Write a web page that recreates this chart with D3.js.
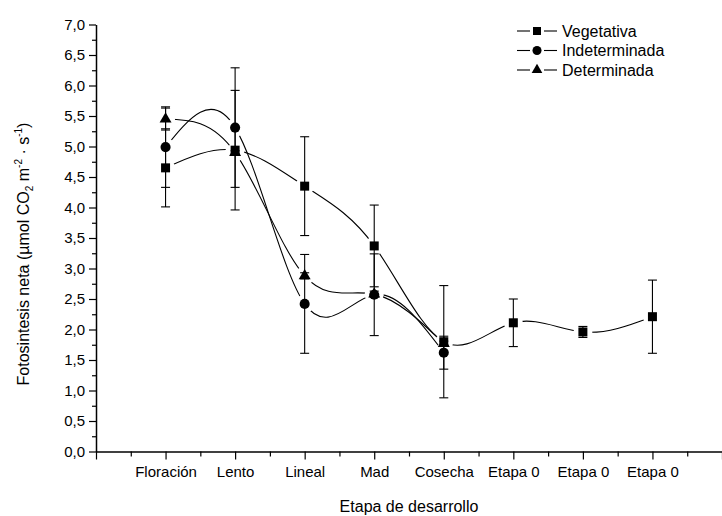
<!DOCTYPE html>
<html>
<head>
<meta charset="utf-8">
<script src="https://cdn.jsdelivr.net/npm/d3@7"></script>
<style>
  body { margin: 0; background: #fff; }
  text { font-family: "Liberation Sans", Arial, sans-serif; fill: #000; }
</style>
</head>
<body>
<svg id="chart" width="722" height="516"></svg>
<script>
// Development stages on the x axis (positions 1..8)
const stages = ["Floración", "Lento", "Lineal", "Mad", "Cosecha", "Etapa 0", "Etapa 0", "Etapa 0"];

// Net photosynthesis (µmol CO2 m-2 s-1) and error per stage
const vegetativa      = [4.65, 4.94, 4.35, 3.37, 1.80, 2.11, 1.96, 2.21];
const vegetativaErr   = [0.64, 0.98, 0.81, 0.67, 0.92, 0.39, 0.09, 0.60];
const indeterminada    = [4.99, 5.31, 2.42, 2.57, 1.62];
const indeterminadaErr = [0.66, 0.98, 0.81, 0.67, 0.27];
const determinada      = [5.45, 4.90, 2.88, 2.58, 1.77];
const determinadaErr   = [0.18, 0.03, 0.05, 0.05, 0.04];

const yMajorTicks = d3.range(0, 7.001, 0.5);
const yMinorTicks = d3.range(0.25, 7, 0.5);
const xMajorTicks = d3.range(0, 10, 1);
const xMinorTicks = d3.range(0.5, 9, 1);

const series = [
  { name: "Vegetativa",    values: vegetativa,    err: vegetativaErr,    symbol: d3.symbolSquare,   size: 81 },
  { name: "Indeterminada", values: indeterminada, err: indeterminadaErr, symbol: d3.symbolCircle,   size: 80 },
  { name: "Determinada",   values: determinada,   err: determinadaErr,   symbol: d3.symbolTriangle, size: 62 }
];

const svg = d3.select("#chart");
const x = d3.scaleLinear().domain([0, 9]).range([96, 722]);
const y = d3.scaleLinear().domain([0, 7]).range([451.5, 24.5]);

const fmt = d => d3.format(".1f")(d).replace(".", ",");

// ---- Axes ----
const yAxis = svg.append("g").attr("transform", `translate(${x(0)},0)`)
  .call(d3.axisLeft(y).tickValues(yMajorTicks).tickSize(7).tickSizeOuter(0).tickFormat(fmt).tickPadding(4));
yAxis.append("g").call(d3.axisLeft(y).tickValues(yMinorTicks).tickSize(4).tickFormat(""))
  .select(".domain").remove();
yAxis.selectAll(".tick text").attr("font-size", 15).attr("fill", "#000");

const xAxis = svg.append("g").attr("transform", `translate(0,${y(0)})`)
  .call(d3.axisBottom(x).tickValues(xMajorTicks).tickSize(8).tickSizeOuter(0)
    .tickFormat(d => stages[d - 1] || "").tickPadding(7));
xAxis.append("g").call(d3.axisBottom(x).tickValues(xMinorTicks).tickSize(5).tickFormat(""))
  .select(".domain").remove();
xAxis.selectAll(".tick text").attr("font-size", 15).attr("fill", "#000");

svg.selectAll(".domain").attr("stroke-width", 1.5);
svg.selectAll(".tick line").attr("stroke-width", 1.2);

// ---- Axis titles ----
svg.append("text")
  .attr("x", 409).attr("y", 512)
  .attr("text-anchor", "middle")
  .attr("font-size", 16)
  .text("Etapa de desarrollo");

const yTitle = svg.append("text")
  .attr("transform", "translate(29,254) rotate(-90)")
  .attr("text-anchor", "middle")
  .attr("font-size", 16);
yTitle.append("tspan").text("Fotosintesis neta (µmol CO");
yTitle.append("tspan").attr("font-size", 10).attr("dy", 4).text("2");
yTitle.append("tspan").attr("dy", -4).text(" m");
yTitle.append("tspan").attr("font-size", 10).attr("dy", -7).text("-2");
yTitle.append("tspan").attr("dy", 7).text(" · s");
yTitle.append("tspan").attr("font-size", 10).attr("dy", -7).text("-1");
yTitle.append("tspan").attr("dy", 7).text(")");

// ---- Series curves ----
const defs = svg.append("defs");
const line = d3.line()
  .x((d, i) => x(i + 1))
  .y(d => y(d))
  .curve(d3.curveNatural);

series.forEach((s, k) => {
  // mask leaves a small gap in the curve around each marker of the series
  const mask = defs.append("mask").attr("id", "gap" + k)
    .attr("maskUnits", "userSpaceOnUse").attr("x", 0).attr("y", 0).attr("width", 722).attr("height", 516);
  mask.append("rect").attr("width", 722).attr("height", 516).attr("fill", "#fff");
  mask.selectAll("circle").data(s.values).join("circle")
    .attr("cx", (d, i) => x(i + 1)).attr("cy", d => y(d)).attr("r", 9.5).attr("fill", "#000");

  svg.append("path")
    .datum(s.values)
    .attr("d", line)
    .attr("fill", "none")
    .attr("stroke", "#000")
    .attr("stroke-width", 1.1)
    .attr("mask", `url(#gap${k})`);
});

// ---- Error bars ----
series.forEach(s => {
  const g = svg.append("g").attr("stroke", "#000").attr("stroke-width", 1.1);
  s.values.forEach((v, i) => {
    const cx = x(i + 1);
    const top = y(v + s.err[i]), bot = y(v - s.err[i]);
    g.append("line").attr("x1", cx).attr("x2", cx).attr("y1", top).attr("y2", bot);
    g.append("line").attr("x1", cx - 4.5).attr("x2", cx + 4.5).attr("y1", top).attr("y2", top);
    g.append("line").attr("x1", cx - 4.5).attr("x2", cx + 4.5).attr("y1", bot).attr("y2", bot);
  });
});

// ---- Markers (first series drawn on top) ----
series.slice().reverse().forEach(s => {
  svg.append("g").selectAll("path").data(s.values).join("path")
    .attr("transform", (d, i) => `translate(${x(i + 1)},${y(d)})`)
    .attr("d", d3.symbol().type(s.symbol).size(s.size))
    .attr("fill", "#000");
});

// ---- Legend ----
const legend = svg.append("g").attr("transform", "translate(517,31)");
series.forEach((s, k) => {
  const row = legend.append("g").attr("transform", `translate(0,${k * 19.5})`);
  row.append("line").attr("x1", 0).attr("x2", 13).attr("stroke", "#000").attr("stroke-width", 1.1);
  row.append("line").attr("x1", 27).attr("x2", 40).attr("stroke", "#000").attr("stroke-width", 1.1);
  row.append("path").attr("transform", "translate(20,0)")
    .attr("d", d3.symbol().type(s.symbol).size(s.size * 0.8)).attr("fill", "#000");
  row.append("text").attr("x", 45).attr("dy", "0.35em").attr("font-size", 16).text(s.name);
});
</script>
</body>
</html>
